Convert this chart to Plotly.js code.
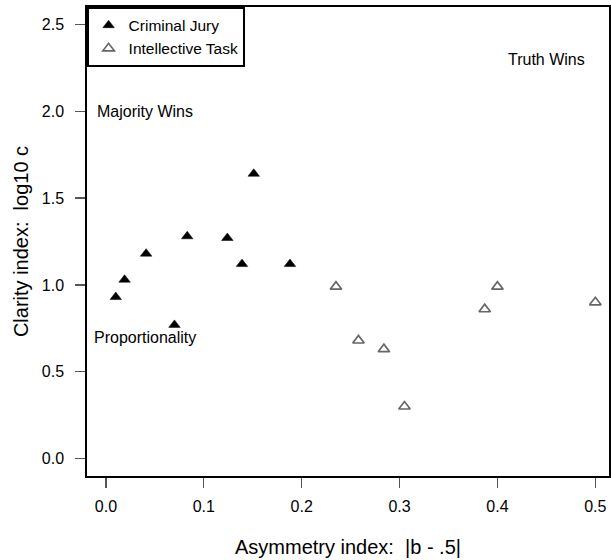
<!DOCTYPE html>
<html>
<head>
<meta charset="utf-8">
<script src="https://cdn.plot.ly/plotly-3.0.1.min.js"></script>
<style>html,body{margin:0;padding:0;background:#fff;}#chart{width:611px;height:560px;}</style>
</head>
<body>
<div id="chart"></div>
<script>
// Criminal Jury (filled triangles)
var juryX = [0.010, 0.019, 0.041, 0.083, 0.124, 0.139, 0.188, 0.151, 0.070];
var juryY = [0.93, 1.03, 1.18, 1.28, 1.27, 1.12, 1.12, 1.64, 0.77];
// Intellective Task (open triangles)
var taskX = [0.235, 0.258, 0.284, 0.305, 0.387, 0.400, 0.500];
var taskY = [0.99, 0.68, 0.63, 0.30, 0.86, 0.99, 0.90];

var seriesNames = ["Criminal Jury", "Intellective Task"];
var xTickVals = [0, 0.1, 0.2, 0.3, 0.4, 0.5];
var xTickText = ["0.0", "0.1", "0.2", "0.3", "0.4", "0.5"];
var yTickVals = [0, 0.5, 1, 1.5, 2, 2.5];
var yTickText = ["0.0", "0.5", "1.0", "1.5", "2.0", "2.5"];

var labelText = ["Truth Wins", "Majority Wins", "Proportionality"];
var labelX = [0.45, 0.04, 0.04];
var labelY = [2.3, 2.0, 0.7];

var FONT = "Liberation Sans, Arial, Helvetica, sans-serif";

var traces = [
  {
    x: juryX, y: juryY, type: "scatter", mode: "markers", name: seriesNames[0],
    marker: {symbol: "triangle-up", size: 10, color: "#000", line: {color: "#000", width: 0.5}}
  },
  {
    x: taskX, y: taskY, type: "scatter", mode: "markers", name: seriesNames[1],
    marker: {symbol: "triangle-up-open", size: 10, color: "#666", line: {color: "#666", width: 1.7}}
  }
];

var annotations = labelText.map(function(t, i) {
  return {x: labelX[i], y: labelY[i], xref: "x", yref: "y", text: t, showarrow: false,
          font: {family: FONT, size: 16, color: "#000"}, xanchor: "center", yanchor: "middle"};
});

var layout = {
  width: 611, height: 560,
  margin: {l: 87, r: 2, t: 7, b: 84},
  paper_bgcolor: "#fff", plot_bgcolor: "#fff",
  font: {family: FONT, color: "#000"},
  showlegend: true,
  legend: {
    x: 0, y: 1, xanchor: "left", yanchor: "top", xref: "paper", yref: "paper",
    bgcolor: "#fff", bordercolor: "#000", borderwidth: 1.6,
    font: {family: FONT, size: 15.5, color: "#000"},
    itemwidth: 30, tracegroupgap: 0
  },
  xaxis: {
    range: [-0.0194, 0.514], tickvals: xTickVals, ticktext: xTickText,
    showgrid: false, zeroline: false,
    showline: true, mirror: true, linecolor: "#000", linewidth: 1.7,
    ticks: "outside", ticklen: 10, tickwidth: 1.2, tickcolor: "#555",
    tickfont: {family: FONT, size: 16, color: "#000"},
    ticklabelstandoff: 5,
    title: {text: "Asymmetry index:  |b - .5|", font: {family: FONT, size: 20, color: "#000"}, standoff: 26}
  },
  yaxis: {
    range: [-0.1, 2.6], tickvals: yTickVals, ticktext: yTickText,
    showgrid: false, zeroline: false,
    showline: true, mirror: true, linecolor: "#000", linewidth: 1.7,
    ticks: "outside", ticklen: 10, tickwidth: 1.2, tickcolor: "#555",
    tickfont: {family: FONT, size: 16, color: "#000"},
    ticklabelstandoff: 8,
    title: {text: "Clarity index:  log10 c", font: {family: FONT, size: 20, color: "#000"}, standoff: 8}
  },
  annotations: annotations
};

Plotly.newPlot("chart", traces, layout, {displayModeBar: false, staticPlot: true});
</script>
</body>
</html>
